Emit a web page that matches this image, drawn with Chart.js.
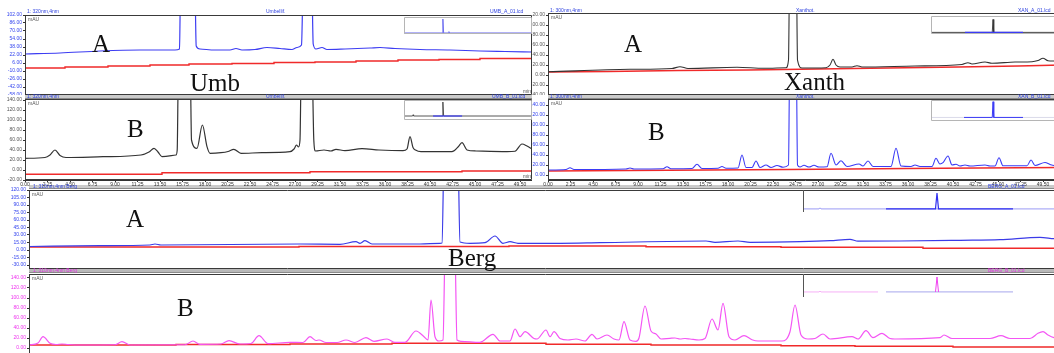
<!DOCTYPE html>
<html lang="en">
<head>
<meta charset="UTF-8">
<title>HPLC chromatograms</title>
<script src="https://cdn.jsdelivr.net/npm/chart.js"></script>
<style>
  body { margin:0; width:1054px; height:353px; overflow:hidden; background:#fff; position:relative; }
  canvas, .lbl, .bar, .tiny { position:absolute; }
  .lbl { font-family:"Liberation Serif","Times New Roman",serif; font-size:25px; line-height:25px; color:#111; }
  .bar { height:3px; background:#cbcbcb; border-bottom:1px solid #8a8a8a; }
  .tiny { font-family:"Liberation Sans",Arial,sans-serif; font-size:5px; line-height:5px; white-space:nowrap; color:#2b3fe0; }
  .gray { color:#555; }
  .pink { color:#e030e0; }
</style>
</head>
<body>

<!-- header bars of the B / Berg panels -->
<div class="bar" style="left:25px;top:95px;width:507px"></div>
<div class="bar" style="left:548px;top:95px;width:506px"></div>
<div class="bar" style="left:29px;top:185px;width:1025px"></div>
<div class="bar" style="left:29px;top:269px;width:1025px;background:#b9b9b9"></div>

<!-- main panels -->
<canvas id="umbA" width="532" height="83" style="left:0;top:12px"></canvas>
<canvas id="umbB" width="532" height="91" style="left:0;top:96px"></canvas>
<canvas id="xanA" width="530" height="85" style="left:532px;top:10px"></canvas>
<canvas id="xanB" width="530" height="91" style="left:532px;top:96px"></canvas>
<canvas id="bergA" width="1062" height="82" style="left:0;top:187px"></canvas>
<canvas id="bergB" width="1062" height="96" style="left:0;top:271px"></canvas>

<!-- overview insets -->
<canvas id="umbAi" width="128" height="17" style="left:404px;top:17px"></canvas>
<canvas id="umbBi" width="128" height="20" style="left:404px;top:100px"></canvas>
<canvas id="xanAi" width="130" height="18" style="left:931px;top:16px"></canvas>
<canvas id="xanBi" width="130" height="21" style="left:931px;top:100px"></canvas>
<canvas id="bergAi" width="260" height="22" style="left:803px;top:190px"></canvas>
<canvas id="bergBi" width="260" height="22" style="left:803px;top:275px"></canvas>

<!-- tiny header texts -->
<div class="tiny" style="left:27px;top:9px">1: 320nm,4nm</div>
<div class="tiny" style="left:266px;top:9px">Umbellif.</div>
<div class="tiny" style="left:490px;top:9px">UMB_A_01.lcd</div>
<div class="tiny" style="left:27px;top:94px">1: 320nm,4nm</div>
<div class="tiny" style="left:266px;top:94px">Umbellif.</div>
<div class="tiny" style="left:492px;top:94px">UMB_B_01.lcd</div>
<div class="tiny" style="left:550px;top:8px">1: 300nm,4nm</div>
<div class="tiny" style="left:796px;top:8px">Xanthot.</div>
<div class="tiny" style="left:1018px;top:8px">XAN_A_01.lcd</div>
<div class="tiny" style="left:550px;top:94px">1: 300nm,4nm</div>
<div class="tiny" style="left:796px;top:94px">Xanthot.</div>
<div class="tiny" style="left:1018px;top:94px">XAN_B_01.lcd</div>
<div class="tiny" style="left:33px;top:184px">1: 310nm,4nm Berg</div>
<div class="tiny" style="left:988px;top:184px">BERG_A_01.lcd</div>
<div class="tiny pink" style="left:33px;top:268px">1: 310nm,4nm Berg</div>
<div class="tiny pink" style="left:988px;top:268px">BERG_B_01.lcd</div>
<div class="tiny gray" style="left:28px;top:17px">mAU</div>
<div class="tiny gray" style="left:28px;top:101px">mAU</div>
<div class="tiny gray" style="left:551px;top:15px">mAU</div>
<div class="tiny gray" style="left:551px;top:101px">mAU</div>
<div class="tiny gray" style="left:32px;top:192px">mAU</div>
<div class="tiny gray" style="left:32px;top:276px">mAU</div>
<div class="tiny gray" style="left:523px;top:89px">min</div>
<div class="tiny gray" style="left:523px;top:174px">min</div>

<!-- panel labels -->
<div class="lbl" style="left:92px;top:31px">A</div>
<div class="lbl" style="left:190px;top:70px">Umb</div>
<div class="lbl" style="left:127px;top:116px">B</div>
<div class="lbl" style="left:624px;top:31px">A</div>
<div class="lbl" style="left:784px;top:69px">Xanth</div>
<div class="lbl" style="left:648px;top:119px">B</div>
<div class="lbl" style="left:126px;top:206px">A</div>
<div class="lbl" style="left:448px;top:245px">Berg</div>
<div class="lbl" style="left:177px;top:295px">B</div>

<script>
// retention time (min), absorbance (mAU)
const umbA_sample = [[0,24],[3.5,26],[7.5,30],[11.5,32],[15,32],[15.45,34],[15.55,160],[16.3,330],[17.0,160],[17.12,40],[17.5,34],[19,32],[20.5,32],[21.1,35],[21.7,32],[23,33],[24.2,37],[25.5,35],[26.7,33],[27.2,37],[27.65,42],[27.8,160],[28.3,330],[28.7,160],[28.82,44],[29.1,34],[29.7,37],[30.2,33],[32,34],[34.5,36],[35.5,37],[37,35],[39.5,33],[42.5,32],[45.5,30],[48,29],[50.7,28]];
const umbA_ref = [[0,-4],[4.0,-2],[8.3,0],[12.5,2],[16.4,4],[20.7,5],[24.9,7],[29.0,8],[33.1,10],[37.3,12],[41.4,13],[45.5,15],[50.7,15]];

const umbB_sample = [[0,23.4],[2.0,25],[2.5,30],[3.0,40],[3.5,29],[4.1,25],[7.8,26.6],[11.6,30],[12.4,36],[12.9,43.4],[13.3,36],[13.7,26.6],[15.1,30],[15.22,40],[15.32,180],[16.0,340],[16.55,180],[16.65,60],[17.2,43.4],[17.74,90],[18.2,46.6],[18.5,33.4],[19.6,34.6],[20.3,37],[20.88,41.4],[21.6,33.4],[23.7,34.6],[26.5,36.6],[26.9,42],[27.15,50],[27.35,46],[27.5,60],[27.6,180],[28.3,340],[28.75,180],[28.88,60],[29.05,38],[29.9,40],[30.6,38],[31.1,41.4],[32.0,38.6],[33.7,42.6],[35.4,40],[37.8,38.6],[38.2,42],[38.5,66.6],[38.8,45],[39.05,40],[39.6,36.6],[42.7,36.6],[43.3,46],[43.7,54.6],[44.2,40],[45.1,38],[48.2,36.6],[49.0,37.5],[49.7,52],[50.2,48],[50.7,42]];
const umbB_ref = [[0,-8.6],[13.7,-5.4],[28.5,-3.4],[43.7,-2],[50.7,-2]];

const xanA_sample = [[0,6.4],[8.2,11.4],[12.4,13],[13.2,16.6],[14,13],[18.9,15.4],[21.6,13.4],[23.8,14.6],[24.05,30],[24.15,200],[24.5,330],[24.85,200],[24.95,30],[25.4,14],[27.8,14.6],[28.2,20],[28.5,31.4],[28.8,20],[29.2,16],[30.4,16],[30.9,18.6],[31.4,16],[36.7,18],[41.4,21],[42,24.6],[42.4,22],[43.7,26],[44.4,23.4],[46.7,26],[48.4,26.6],[49,29],[49.5,33.4],[50,28.6],[50.6,28],[51.4,27]];
const xanA_ref = [[0,6],[6,7],[13,9],[20,10],[27,12],[34,14],[41,16],[47,18],[51.4,20]];

const xanB_sample = [[0,10],[1.8,11],[2.2,14.6],[2.6,11],[7.8,12],[8.2,14],[8.6,12],[11.5,12.5],[11.9,16.6],[12.3,12.5],[14.4,13],[14.9,21.4],[15.4,13],[17.0,13.5],[17.4,17],[17.8,13.5],[19.0,14],[19.4,40],[19.8,15],[20.4,15],[20.8,28],[21.2,15],[21.8,20],[22.3,15],[22.9,19],[23.5,15.5],[24.05,20],[24.15,200],[24.5,330],[24.85,200],[24.95,20],[25.2,16],[25.6,19.4],[26.1,16],[26.6,19.4],[27.1,16],[27.9,16.5],[28.3,43.4],[28.8,20],[29.3,28.6],[29.9,17],[31.1,22],[31.5,18],[32,28],[32.5,17],[34.3,17],[34.8,53.4],[35.3,18],[36.3,17],[36.7,20],[37.2,17],[38.4,17],[38.8,33.4],[39.2,22],[39.5,24.6],[40,38],[40.4,20],[40.8,21.4],[41.2,18],[41.7,20],[42.2,18],[43.7,20],[44.2,18],[44.7,18],[45.1,34.6],[45.5,18.5],[47.9,18.5],[48.3,30],[48.7,19],[49.7,25],[50.2,21],[50.6,19],[51.4,19]];
const xanB_ref = [[0,8],[8,9],[16,10],[24,11],[30,12],[36,13],[43,14],[51.4,15]];

const bergA_sample = [[0,7],[3.55,8.6],[6.05,10],[6.3,12],[6.6,10],[13.55,12],[15.55,11.4],[16.35,16.6],[16.55,13.4],[16.8,18.6],[17.15,12],[19.55,12],[20.55,13.4],[20.65,14],[20.75,200],[21.1,330],[21.45,200],[21.55,16],[22.05,13.4],[22.8,14.6],[23.3,28],[23.7,13.4],[24.05,16.6],[24.45,13.4],[26.55,13.4],[28.55,14.6],[33.85,18],[34.3,15.4],[35.45,18],[36.05,15.4],[38.55,16.6],[40.05,18.6],[41.05,21.4],[41.45,17.8],[43.55,18],[46.55,19.4],[48.55,20.6],[50.55,25.4],[51.25,22.6],[51.65,22]];
const bergA_ref = [[0,6],[13.5,7],[24,8],[30.85,6.6],[37.6,5.4],[44.7,3.4],[51.65,3.4]];

const bergB_sample = [[0,6],[0.45,10],[0.7,22.6],[1.05,9.4],[1.35,7],[1.65,8],[1.95,7],[2.55,6],[4.3,6.5],[4.65,12.6],[5.05,6],[7.8,6.5],[8.2,14],[8.55,7.4],[9.6,8],[10,14.6],[10.55,8],[11.1,9],[11.5,24.6],[11.95,8.6],[13.05,11.4],[13.7,11],[14.05,22.6],[14.35,15],[14.5,16],[14.85,11],[15.4,11],[15.85,16],[16.3,11],[16.85,20.6],[17.25,13.4],[17.9,18],[18.3,11.4],[18.8,11.4],[19.35,34],[19.75,22.6],[19.95,16],[20.1,96],[20.3,22.6],[20.5,14],[20.7,16],[20.8,200],[21.0,330],[21.3,200],[21.4,16],[21.6,13.4],[22.55,11.4],[23.2,27.4],[23.55,14],[24.05,14],[24.3,38],[24.55,22.6],[24.8,32.6],[25.25,19],[25.4,18],[25.85,36],[26.05,22.6],[26.25,32.6],[26.55,19],[26.95,16],[27.35,18],[27.8,14],[28.15,27.4],[28.4,18],[28.9,26],[29.25,18],[29.5,16],[29.75,52.6],[30.05,16],[30.35,13.4],[30.5,20],[30.8,84],[31.1,34],[31.35,28],[31.6,18],[32.05,19.4],[32.3,20],[32.55,18],[32.8,19],[33.05,18],[33.5,16],[33.8,19],[34.15,58],[34.45,36],[34.7,89.4],[35,22.6],[35.3,16],[35.75,24.6],[36.15,16.6],[36.45,14],[37.65,14],[38.05,32.6],[38.3,86],[38.6,26],[38.95,18],[39.3,19],[39.7,28],[40.05,18],[41.15,22.6],[41.45,18],[41.85,34.6],[42.2,20.6],[42.65,29.4],[43.05,19],[43.3,18],[45.55,20.6],[45.75,26],[46.15,19],[48.05,19],[48.6,24.6],[49.05,19],[50.05,19],[50.45,29.4],[50.7,32.6],[50.95,26],[51.25,20.6],[51.65,19]];
const bergB_ref = [[0,6],[7.35,7],[13.05,8],[18.15,9.4],[25.85,7.4],[31.1,6],[37.6,4.6],[41.3,3.4],[46.2,2],[51.65,2]];

// overview insets (relative %)
const umbA_overview = [[0,6],[15.1,6],[15.4,88],[15.7,6],[17.6,6],[17.8,14],[18.0,6],[50.7,6]];
const umbB_overview = [[0,20],[3.4,20],[3.6,26],[3.8,20],[15.1,20],[15.4,90],[15.7,20],[50.7,20]];
const umbB_overviewPda = [[11.5,20],[23,20]];
const xanA_overview = [[0,9],[24.5,9],[24.8,81],[25.1,9],[52,9]];
const xanA_overviewPda = [[13.6,9],[36.8,9]];
const xanB_overview = [[0,17],[52,17]];
const xanB_overviewPda = [[13.2,17],[24.5,17],[24.8,92],[25.1,17],[36.8,17]];
const bergA_overview = [[0,14],[3.2,14],[3.4,19],[3.6,14],[52,14]];
const bergA_overviewPda = [[16.6,14],[26.5,14],[26.8,86],[27.1,14],[42,14]];
const bergB_overview = [[0,23],[3.2,23],[3.4,27],[3.6,23],[15,23]];
const bergB_overviewPda = [[16.6,23],[42,23]];
const bergB_overviewPeak = [[26.5,23],[26.8,91],[27.1,23]];

// box around the plot area
const framePlugin = {
  id: 'frame',
  afterDraw(chart, args, opts) {
    const a = chart.chartArea, ctx = chart.ctx;
    ctx.save();
    ctx.strokeStyle = opts.color || '#3a3a3a';
    ctx.lineWidth = 1;
    ctx.beginPath();
    if (opts.leftOnly) {
      ctx.moveTo(a.left + 0.5, a.top); ctx.lineTo(a.left + 0.5, a.bottom);
    } else {
      ctx.rect(a.left + 0.5, a.top + 0.5, a.right - a.left - 1, a.bottom - a.top - 1);
    }
    ctx.stroke();
    ctx.restore();
  }
};

function line(data, color, width, extra) {
  return Object.assign({
    data: data.map(p => ({ x: p[0], y: p[1] })),
    borderColor: color, borderWidth: width, pointRadius: 0, fill: false,
    cubicInterpolationMode: 'monotone'
  }, extra || {});
}
const step = { stepped: true, cubicInterpolationMode: 'default' };
const flat = { cubicInterpolationMode: 'default', tension: 0 };

function chromatogram(id, datasets, o) {
  const x = {
    type: 'linear', min: 0, max: o.xMax, display: !!o.xLabels,
    ticks: { stepSize: 2.25, autoSkip: false, maxRotation: 0, includeBounds: false, color: '#333',
             font: { size: 5, family: 'Liberation Sans' }, padding: 0, callback: v => v.toFixed(2) },
    grid: { drawOnChartArea: false, drawTicks: true, tickLength: 2, color: '#333' },
    border: { color: '#333' }
  };
  if (o.xLabels) x.afterFit = s => { s.height = 7; s.paddingLeft = 0; s.paddingRight = 0; };
  new Chart(document.getElementById(id), {
    type: 'line',
    data: { datasets },
    options: {
      responsive: false, animation: false, events: [],
      layout: { padding: { top: 3 } },
      plugins: { legend: { display: false }, tooltip: { enabled: false }, frame: {} },
      scales: {
        x,
        y: {
          min: o.yMin, max: o.yMax,
          ticks: { stepSize: o.yStep, autoSkip: false, includeBounds: false, color: o.tickColor,
                   font: { size: 5, family: 'Liberation Sans' }, padding: 1, callback: v => v.toFixed(2) },
          grid: { drawOnChartArea: false, drawTicks: true, tickLength: 2, color: '#333' },
          border: { color: '#333' },
          afterFit: s => { s.width = o.axisW; s.paddingTop = 0; s.paddingBottom = 0; }
        }
      }
    },
    plugins: [framePlugin]
  });
}

function overview(id, datasets, xMax, frame) {
  new Chart(document.getElementById(id), {
    type: 'line',
    data: { datasets },
    options: {
      responsive: false, animation: false, events: [],
      plugins: { legend: { display: false }, tooltip: { enabled: false }, frame },
      scales: {
        x: { type: 'linear', min: 0, max: xMax, display: false },
        y: { min: 0, max: 100, display: false }
      }
    },
    plugins: [framePlugin]
  });
}

const red = '#f02a2a';

chromatogram('umbA', [line(umbA_sample, '#3d3df2', 1.2), line(umbA_ref, red, 1.4, step)],
  { xMax: 50.7, yMin: -58, yMax: 102, yStep: 16, tickColor: '#3344ee', axisW: 25 });
chromatogram('umbB', [line(umbB_sample, '#333', 1.2), line(umbB_ref, red, 1.4, step)],
  { xMax: 50.7, yMin: -20, yMax: 142, yStep: 20, tickColor: '#555', axisW: 25, xLabels: true });
chromatogram('xanA', [line(xanA_sample, '#333', 1.1), line(xanA_ref, red, 1.4, flat)],
  { xMax: 51.4, yMin: -40, yMax: 124, yStep: 20, tickColor: '#555', axisW: 16 });
chromatogram('xanB', [line(xanB_sample, '#3b3bf5', 1.1), line(xanB_ref, red, 1.4, flat)],
  { xMax: 51.4, yMin: -10, yMax: 152, yStep: 20, tickColor: '#3344ee', axisW: 16, xLabels: true });
chromatogram('bergA', [line(bergA_sample, '#3b3be8', 1.2), line(bergA_ref, red, 1.4, step)],
  { xMax: 51.65, yMin: -38, yMax: 120, yStep: 15, tickColor: '#3344ee', axisW: 29 });
chromatogram('bergB', [line(bergB_sample, '#f455f4', 1.2), line(bergB_ref, red, 1.4, step)],
  { xMax: 51.65, yMin: -24, yMax: 148, yStep: 20, tickColor: '#ee33ee', axisW: 29, xLabels: true });

const box = { color: '#b5b5b5' };
overview('umbAi', [line(umbA_overview, '#6d6df0', 1, flat)], 50.7, box);
overview('umbBi', [line(umbB_overviewPda, '#3b3bf5', 1.2, flat), line(umbB_overview, '#444', 0.9, flat)], 50.7, box);
overview('xanAi', [line(xanA_overviewPda, '#3b3bf5', 1.2, flat), line(xanA_overview, '#333', 0.9, flat)], 52, box);
overview('xanBi', [line(xanB_overviewPda, '#3b3bf5', 1, flat), line(xanB_overview, '#d6d6e6', 0.9, flat)], 52, box);
overview('bergAi', [line(bergA_overviewPda, '#3030f0', 1.2, flat), line(bergA_overview, '#9a9af5', 1, flat)], 52,
  { color: '#555', leftOnly: true });
overview('bergBi', [line(bergB_overviewPeak, '#f040f0', 1, flat), line(bergB_overviewPda, '#b8b8f0', 1.2, flat),
  line(bergB_overview, '#f6b0f6', 1, flat)], 52, { color: '#555', leftOnly: true });
</script>
</body>
</html>
